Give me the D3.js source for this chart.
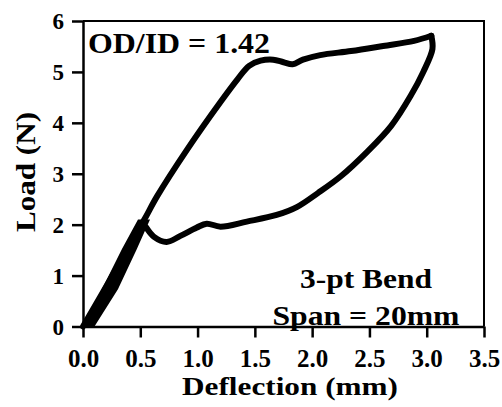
<!DOCTYPE html>
<html>
<head>
<meta charset="utf-8">
<script src="https://cdn.jsdelivr.net/npm/d3@7"></script>
<style>
  body { margin: 0; background: #fff; }
  svg { display: block; }
  text { font-family: "Liberation Serif", "Times New Roman", serif; font-weight: bold; fill: #000; }
</style>
</head>
<body>
<svg id="chart" width="502" height="407"></svg>
<script>
// loading branch (deflection mm, load N)
const loadingDefl = [0, 0.27, 0.53, 0.65, 0.91, 1.20, 1.35, 1.45, 1.55, 1.66, 1.75, 1.83, 1.92, 2.07, 2.34, 2.62, 2.89, 3.04];
const loadingLoad = [0, 1.05, 2.08, 2.57, 3.48, 4.41, 4.86, 5.12, 5.22, 5.24, 5.19, 5.15, 5.24, 5.33, 5.41, 5.51, 5.61, 5.71];

// unloading branch
const unloadDefl = [3.04, 3.05, 2.97, 2.86, 2.69, 2.48, 2.25, 2.05, 1.87, 1.69, 1.43, 1.20, 1.08, 0.99, 0.85, 0.73, 0.62, 0.55];
const unloadLoad = [5.71, 5.45, 5.00, 4.53, 3.94, 3.43, 2.95, 2.62, 2.35, 2.19, 2.06, 1.96, 2.02, 1.94, 1.78, 1.66, 1.76, 1.95];

// dense band near the origin (left / right edge of the black wedge)
const bandLoad  = [0, 0.73, 1.52, 2.10];
const bandLeft  = [0, 0.165, 0.34, 0.48];
const bandRight = [0.10, 0.305, 0.47, 0.585];

const xTicks = [0, 0.5, 1.0, 1.5, 2.0, 2.5, 3.0, 3.5];
const yTicks = [0, 1, 2, 3, 4, 5, 6];

const svg = d3.select('#chart');

const x = d3.scaleLinear().domain([0, 3.5]).range([83, 484]);
const y = d3.scaleLinear().domain([0, 6]).range([326.5, 21]);

// frame (top + right)
svg.append('path')
  .attr('d', `M${x(0)},${y(6)}H${x(3.5)}V${y(0)}`)
  .attr('fill', 'none')
  .attr('stroke', '#000')
  .attr('stroke-width', 2);

// axes
const xAxis = svg.append('g')
  .attr('transform', `translate(0,${y(0)})`)
  .call(d3.axisBottom(x).tickValues(xTicks).tickFormat(d3.format('.1f')).tickSize(11).tickSizeOuter(0));
xAxis.selectAll('text')
  .attr('y', 40)
  .attr('dy', 0)
  .style('font-size', '25px')
  .style('font-family', '"Liberation Serif", serif')
  .style('font-weight', 'bold');

const yAxis = svg.append('g')
  .attr('transform', `translate(${x(0)},0)`)
  .call(d3.axisLeft(y).tickValues(yTicks).tickFormat(d3.format('d')).tickSize(11).tickSizeOuter(0));
yAxis.selectAll('text')
  .attr('x', -19)
  .attr('dy', '0.34em')
  .style('font-size', '23px')
  .style('font-family', '"Liberation Serif", serif')
  .style('font-weight', 'bold');

svg.selectAll('.domain, .tick line')
  .attr('stroke', '#000')
  .attr('stroke-width', 2.5);

// curve
const pts = (xs, ys) => xs.map((d, i) => [d, ys[i]]);
const line = d3.line()
  .x(d => x(d[0]))
  .y(d => y(d[1]))
  .curve(d3.curveCatmullRom.alpha(0.5));

const band = d3.area()
  .y(d => y(d[0]))
  .x0(d => x(d[1]))
  .x1(d => x(d[2]));

svg.append('path')
  .datum(bandLoad.map((l, i) => [l, bandLeft[i], bandRight[i]]))
  .attr('d', band)
  .attr('fill', '#000');

[pts(loadingDefl, loadingLoad), pts(unloadDefl, unloadLoad)].forEach(data => {
  svg.append('path')
    .datum(data)
    .attr('d', line)
    .attr('fill', 'none')
    .attr('stroke', '#000')
    .attr('stroke-width', 6)
    .attr('stroke-linejoin', 'round')
    .attr('stroke-linecap', 'round');
});

// labels
svg.append('text')
  .attr('x', 290).attr('y', 395)
  .attr('text-anchor', 'middle')
  .attr('textLength', 216).attr('lengthAdjust', 'spacingAndGlyphs')
  .style('font-size', '26px')
  .text('Deflection (mm)');

svg.append('text')
  .attr('transform', 'translate(35,172) rotate(-90)')
  .attr('text-anchor', 'middle')
  .attr('textLength', 120).attr('lengthAdjust', 'spacingAndGlyphs')
  .style('font-size', '27px')
  .text('Load (N)');

svg.append('text')
  .attr('x', 88).attr('y', 53)
  .attr('textLength', 182).attr('lengthAdjust', 'spacingAndGlyphs')
  .style('font-size', '29px')
  .text('OD/ID = 1.42');

svg.append('text')
  .attr('x', 366).attr('y', 288)
  .attr('text-anchor', 'middle')
  .attr('textLength', 132).attr('lengthAdjust', 'spacingAndGlyphs')
  .style('font-size', '28px')
  .text('3-pt Bend');

svg.append('text')
  .attr('x', 366).attr('y', 325)
  .attr('text-anchor', 'middle')
  .attr('textLength', 187).attr('lengthAdjust', 'spacingAndGlyphs')
  .style('font-size', '28px')
  .text('Span = 20mm');
</script>
</body>
</html>
